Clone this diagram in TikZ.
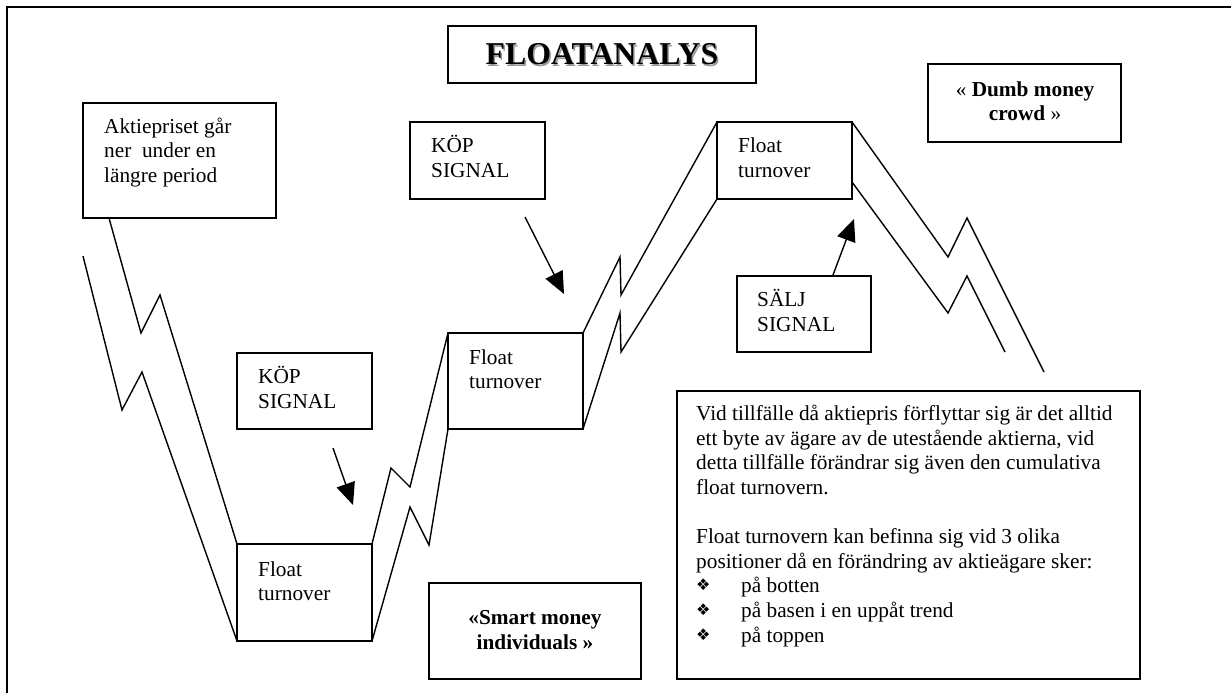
\documentclass[tikz,border=0pt]{standalone}
\usepackage{fontspec}
\setmainfont{Liberation Serif}
\newfontfamily\symfont{DejaVu Sans}
\usetikzlibrary{arrows.meta}
\begin{document}
\begin{tikzpicture}[x=1pt,y=-1pt,
  box/.style={draw, line width=1.4pt, inner sep=0pt, outer sep=0pt, anchor=north west},
  txt/.style={anchor=base west, inner sep=0pt, font=\fontsize{21.3}{24.5}\selectfont},
  ctxt/.style={anchor=base, inner sep=0pt, font=\fontsize{21.3}{24.5}\selectfont},
  bul/.style={anchor=base west, inner sep=0pt, font=\symfont\fontsize{16}{18}\selectfont},
  zz/.style={line width=1.4pt, line join=miter},
  sig/.style={line width=1.4pt, -{Triangle[length=22pt,width=19pt]}}]
\useasboundingbox (0,0) rectangle (1231,693);
% frame (top and left edges)
\draw[line width=2.2pt] (7,693) -- (7,7) -- (1231,7);

% boxes
\node[box, minimum width=308pt, minimum height=57pt] (title) at (448,26) {};
\node[box, minimum width=193pt, minimum height=115pt] (akt) at (83,103) {};
\node[box, minimum width=135pt, minimum height=77pt] (kop1) at (410,122) {};
\node[box, minimum width=135pt, minimum height=77pt] (ftop) at (717,122) {};
\node[box, minimum width=193pt, minimum height=78pt] (dumb) at (928,64) {};
\node[box, minimum width=134pt, minimum height=76pt] (salj) at (737,276) {};
\node[box, minimum width=135pt, minimum height=76pt] (kop2) at (237,353) {};
\node[box, minimum width=135pt, minimum height=97pt] (fbot) at (237,544) {};
\node[box, minimum width=135pt, minimum height=96pt] (fmid) at (448,333) {};
\node[box, minimum width=212pt, minimum height=96pt] (smart) at (429,583) {};
\node[box, minimum width=463pt, minimum height=288pt] (info) at (677,391) {};

% title with shadow
\node[anchor=base, inner sep=0pt, text=black!40, font=\fontsize{31.8}{36}\selectfont\bfseries] (titleshadow) at (603.5,66.5) {FLOATANALYS};
\node[anchor=base, inner sep=0pt, font=\fontsize{31.8}{36}\selectfont\bfseries] (titletext) at (602,65) {FLOATANALYS};

% texts
\node[txt] (akt1) at (104,133) {Aktiepriset går};
\node[txt] (akt2) at (104,157) {ner\ \ under en};
\node[txt] (akt3) at (104,182) {längre period};

\node[txt] (kop1a) at (431,152) {KÖP};
\node[txt] (kop1b) at (431,177) {SIGNAL};

\node[txt] (ftopa) at (738,152) {Float};
\node[txt] (ftopb) at (738,177) {turnover};

\node[txt] (salja) at (757,306) {SÄLJ};
\node[txt] (saljb) at (757,331) {SIGNAL};

\node[txt] (kop2a) at (258,383) {KÖP};
\node[txt] (kop2b) at (258,408) {SIGNAL};

\node[txt] (fbota) at (258,576) {Float};
\node[txt] (fbotb) at (258,600) {turnover};

\node[txt] (fmida) at (469,364) {Float};
\node[txt] (fmidb) at (469,388) {turnover};

\node[ctxt] (dumba) at (1025,96) {« \textbf{Dumb money}};
\node[ctxt] (dumbb) at (1025,120) {\textbf{crowd} »};

\node[ctxt] (smarta) at (535,624) {\textbf{«Smart money}};
\node[ctxt] (smartb) at (535,649) {\textbf{individuals »}};

\node[txt] (i1) at (696,420) {Vid tillfälle då aktiepris förflyttar sig är det alltid};
\node[txt] (i2) at (696,445) {ett byte av ägare av de utestående aktierna, vid};
\node[txt] (i3) at (696,469) {detta tillfälle förändrar sig även den cumulativa};
\node[txt] (i4) at (696,494) {float turnovern.};
\node[txt] (i5) at (696,543) {Float turnovern kan befinna sig vid 3 olika};
\node[txt] (i6) at (696,568) {positioner då en förändring av aktieägare sker:};
\node[bul] (b1) at (696,590) {❖};
\node[txt] (i7) at (741,592) {på botten};
\node[bul] (b2) at (696,615) {❖};
\node[txt] (i8) at (741,617) {på basen i en uppåt trend};
\node[bul] (b3) at (696,640) {❖};
\node[txt] (i9) at (741,642) {på toppen};

% zigzag price channel
\draw[zz] (83,256) -- (122,410) -- (142,372) -- (fbot.south west);
\draw[zz] (109,218) -- (141,333) -- (160,295) -- (fbot.north west);
\draw[zz] (fbot.north east) -- (391,468) -- (410,487) -- (fmid.north west);
\draw[zz] (fbot.south east) -- (410,507) -- (429,545) -- (fmid.south west);
\draw[zz] (fmid.north east) -- (620,257) -- (621,295) -- (ftop.north west);
\draw[zz] (fmid.south east) -- (620,313) -- (621,352) -- (ftop.south west);
\coordinate (endup) at (1044,372);
\coordinate (endlo) at (1005,352);
\draw[zz] (ftop.north east) -- (948,257) -- (967,218) -- (endup);
\draw[zz] (852,182) -- (948,313) -- (967,276) -- (endlo);

% signal arrows
\coordinate (k1s) at (525,217);
\coordinate (k1e) at (564,294);
\coordinate (k2s) at (333,448);
\coordinate (k2e) at (353,505);
\coordinate (sjs) at (833,275);
\coordinate (sje) at (854,219);
\draw[sig] (k1s) -- (k1e);
\draw[sig] (k2s) -- (k2e);
\draw[sig] (sjs) -- (sje);
\end{tikzpicture}
\end{document}
